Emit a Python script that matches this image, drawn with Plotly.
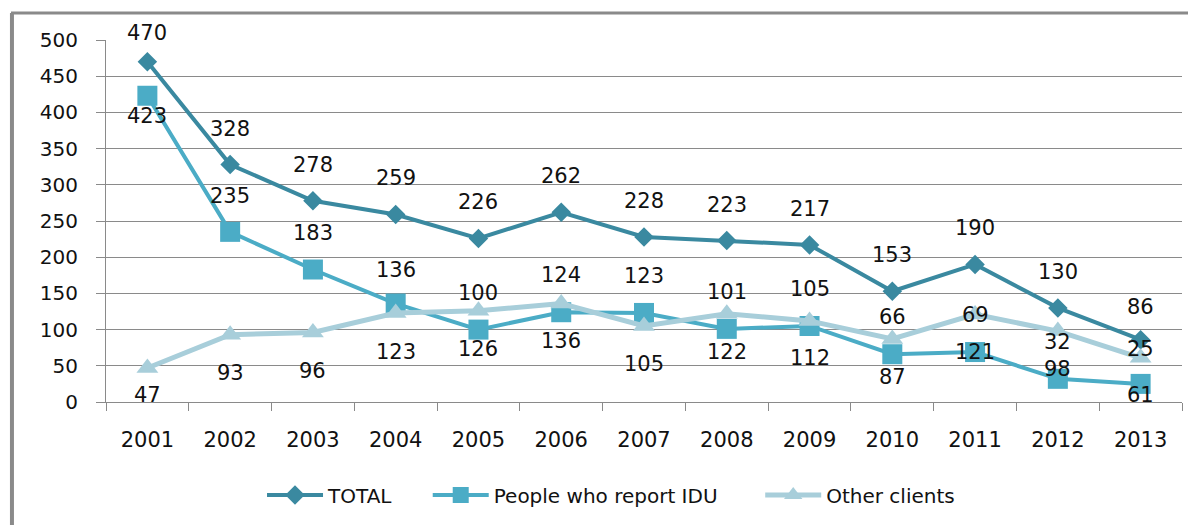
import plotly.graph_objects as go

years = ["2001", "2002", "2003", "2004", "2005", "2006", "2007",
         "2008", "2009", "2010", "2011", "2012", "2013"]
total = [470, 328, 278, 259, 226, 262, 228, 223, 217, 153, 190, 130, 86]
idu = [423, 235, 183, 136, 100, 124, 123, 101, 105, 66, 69, 32, 25]
other = [47, 93, 96, 123, 126, 136, 105, 122, 112, 87, 121, 98, 61]

# label placement (pixel shift of the value label relative to its point)
total_shift = [29, 36, 36, 36, 36, 36, 36, 36, 36, 36, 36, 36, 33]
idu_shift = [-20, 36, 37, 34, 37, 37, 37, 37, 37, 37, 37, 37, 35]
other_shift = [-27, -38, -38, -39, -38, -37, -38, -38, -37, -38, -38, -38, -37]

c_total = "#3A89A0"
c_idu = "#4BACC6"
c_other = "#A8CEDA"
font_family = "DejaVu Sans"

fig = go.Figure()
fig.add_trace(go.Scatter(
    x=years, y=total, name="TOTAL", mode="lines+markers", legend="legend",
    line=dict(color=c_total, width=4),
    marker=dict(symbol="diamond", size=15, color=c_total),
))
fig.add_trace(go.Scatter(
    x=years, y=idu, name="People who report IDU", mode="lines+markers",
    legend="legend2",
    line=dict(color=c_idu, width=4),
    marker=dict(symbol="square", size=20, color=c_idu),
))
fig.add_trace(go.Scatter(
    x=years, y=other, name="Other clients", mode="lines+markers",
    legend="legend3",
    line=dict(color=c_other, width=5),
    marker=dict(symbol="triangle-up", size=19, color=c_other),
))

annotations = []
for vals, shifts in ((total, total_shift), (idu, idu_shift), (other, other_shift)):
    for i, (v, s) in enumerate(zip(vals, shifts)):
        annotations.append(dict(
            x=i, y=v, text=str(v), showarrow=False, yshift=s,
            font=dict(family=font_family, size=21, color="#111111"),
        ))


def legend_at(x):
    return dict(
        orientation="h", x=x, xanchor="left", y=-0.257, yanchor="middle",
        font=dict(family=font_family, size=20, color="#111111"),
        itemwidth=56, bgcolor="rgba(0,0,0,0)",
    )


grey = "#8A8A8A"
fig.update_layout(
    width=1196, height=525,
    margin=dict(l=98, r=22, t=32, b=131),
    paper_bgcolor="white", plot_bgcolor="white",
    font=dict(family=font_family, size=20, color="#111111"),
    showlegend=True,
    legend=legend_at(0.145),
    legend2=legend_at(0.299),
    legend3=legend_at(0.608),
    annotations=annotations,
    shapes=[
        dict(type="line", xref="paper", yref="paper",
             x0=-0.0883, x1=1.03, y0=1.0746, y1=1.0746,
             line=dict(color=grey, width=3)),
        dict(type="line", xref="paper", yref="paper",
             x0=-0.0874, x1=-0.0874, y0=1.0746, y1=-0.4,
             line=dict(color=grey, width=4)),
    ],
)
fig.update_xaxes(
    type="category", range=[-0.5, len(years) - 0.5],
    showgrid=False, showline=True, linecolor=grey, linewidth=1,
    ticks="outside", tickson="boundaries", ticklen=8, tickcolor=grey,
    ticklabelstandoff=19, tickangle=0,
    tickfont=dict(family=font_family, size=21, color="#111111"),
)
fig.update_yaxes(
    range=[0, 500], dtick=50, showgrid=True, gridcolor=grey, gridwidth=1,
    showline=True, linecolor=grey, linewidth=1, zeroline=False,
    ticks="outside", ticklen=9, tickcolor=grey, ticklabelstandoff=14,
    tickfont=dict(family=font_family, size=20, color="#111111"),
)

fig.write_html("out.html")
